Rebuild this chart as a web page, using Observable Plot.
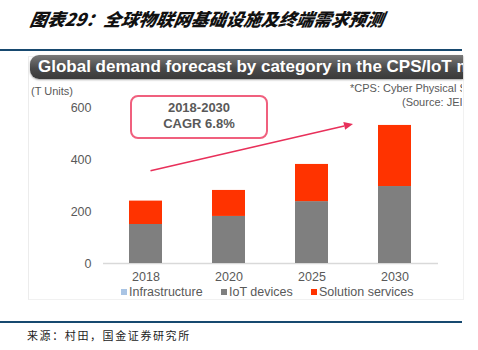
<!DOCTYPE html>
<html>
<head>
<meta charset="utf-8">
<script src="https://cdn.jsdelivr.net/npm/d3@7"></script>
<script src="https://cdn.jsdelivr.net/npm/@observablehq/plot@0.6"></script>
<style>
  html, body { margin: 0; padding: 0; background: #fff; }
  #page { position: relative; width: 478px; height: 350px; overflow: hidden; background: #fff; font-family: "Liberation Sans", Arial, sans-serif; }
  .abs { position: absolute; }
  #title { left: 28px; top: 6px; font-family: "Noto Sans CJK SC", sans-serif; font-weight: 900; font-style: italic; font-size: 17.5px; color: #111; white-space: nowrap; transform: skewX(-10deg); transform-origin: left bottom; }
  .rule { left: 0; width: 462px; height: 2px; background: #17496f; }
  #panel { left: 28px; top: 56px; width: 434px; height: 242px; border: 1px solid #f1f1f1; border-left-color: #ececec; }
  #bar { left: 30px; top: 55px; width: 433px; height: 24px; border-radius: 9px 0 0 9px; background: linear-gradient(#7a7a7a, #4a4a4a 55%, #3a3a3a); overflow: hidden; box-shadow: 0 1px 2px rgba(0,0,0,0.35); }
  #bar span { position: absolute; left: 8px; top: 2px; color: #fff; font-weight: bold; font-size: 17px; white-space: nowrap; }
  .note { font-size: 11px; color: #595959; white-space: nowrap; }
  #clipnotes { left: 300px; top: 82px; width: 162px; height: 30px; overflow: hidden; }
  #box { left: 130px; top: 95px; width: 134px; height: 37px; border: 2px solid #f0607e; border-radius: 8px; text-align: center; font-weight: bold; font-size: 13px; color: #595959; line-height: 16px; padding-top: 3px; box-sizing: content-box; }
  #legend { left: 0; top: 285px; width: 478px; font-size: 12.5px; color: #595959; }
  .lg { position: absolute; top: 0; white-space: nowrap; }
  .sw { display: inline-block; width: 6px; height: 6px; margin-right: 2px; vertical-align: 1px; }
  #source { left: 27px; top: 327px; font-family: "Noto Sans CJK SC", sans-serif; font-size: 11px; letter-spacing: 1.6px; color: #222; white-space: nowrap; }
</style>
</head>
<body>
<div id="page">
  <div id="title" class="abs">图表29：全球物联网基础设施及终端需求预测</div>
  <div class="abs rule" style="top:49px"></div>
  <div id="panel" class="abs"></div>
  <div id="bar" class="abs"><span>Global demand forecast by category in the CPS/IoT market</span></div>
  <div class="abs note" style="left:31px; top:85px">(T Units)</div>
  <div id="clipnotes" class="abs">
    <div class="abs note" style="left:50px; top:0px">*CPS: Cyber Physical Systems</div>
    <div class="abs note" style="left:102px; top:14px">(Source: JEITA)</div>
  </div>
  <div id="chart" class="abs" style="left:0; top:85px"></div>
  <div id="box" class="abs">2018-2030<br>CAGR 6.8%</div>
  <div id="legend" class="abs"></div>
  <div class="abs rule" style="top:321px"></div>
  <div id="source" class="abs">来源：村田，国金证券研究所</div>
</div>
<script>
// ---- data ----
const years = ["2018", "2020", "2025", "2030"];
const seriesNames = ["Infrastructure", "IoT devices", "Solution services"];
const infrastructure = [0, 0, 0, 0];
const iotDevices = [150, 181, 238, 296];
const solutionServices = [90, 100, 143, 235];
const yTicks = [0, 200, 400, 600];
const seriesColors = ["#a9c4e4", "#7f7f7f", "#ff3300"];
const cagrArrowStart = {year: "2018", value: 355};
const cagrArrowEnd = {between: ["2025", "2030"], value: 535};

const table = [];
years.forEach((yr, i) => {
  table.push({year: yr, series: seriesNames[0], value: infrastructure[i]});
  table.push({year: yr, series: seriesNames[1], value: iotDevices[i]});
  table.push({year: yr, series: seriesNames[2], value: solutionServices[i]});
});

const chart = Plot.plot({
  width: 478,
  height: 200,
  marginTop: 22,
  marginBottom: 22,
  marginLeft: 103,
  marginRight: 40,
  style: {fontFamily: "'Liberation Sans', Arial, sans-serif", fontSize: "12.5px", color: "#595959", background: "transparent", overflow: "visible"},
  x: {domain: years, paddingInner: 0.6, paddingOuter: 0.3, label: null, tickSize: 0, tickPadding: 9},
  y: {domain: [0, 600], ticks: yTicks, label: null, tickSize: 0, tickPadding: 12},
  color: {domain: seriesNames, range: seriesColors},
  marks: [
    Plot.ruleY([0], {stroke: "#d9d9d9", strokeWidth: 1.5}),
    Plot.barY(table, {x: "year", y: "value", fill: "series", order: seriesNames})
  ]
});
document.getElementById("chart").appendChild(chart);

// CAGR arrow, placed through the chart's scales
const xs = chart.scale("x"), ys = chart.scale("y");
const bw = xs.bandwidth;
const cx = (v) => xs.apply(v) + bw / 2;
const x1 = cx(cagrArrowStart.year) + 5, y1 = ys.apply(cagrArrowStart.value);
const x2 = (cx(cagrArrowEnd.between[0]) + cx(cagrArrowEnd.between[1])) / 2, y2 = ys.apply(cagrArrowEnd.value);
const svg = d3.select(chart);
const ang = Math.atan2(y2 - y1, x2 - x1);
const hl = 9, hw = 4;
const bx = x2 - hl * Math.cos(ang), by = y2 - hl * Math.sin(ang);
svg.append("line").attr("x1", x1).attr("y1", y1).attr("x2", bx).attr("y2", by)
  .attr("stroke", "#e8305a").attr("stroke-width", 1.6);
svg.append("path")
  .attr("d", `M${x2},${y2}L${bx - hw * Math.sin(ang)},${by + hw * Math.cos(ang)}L${bx + hw * Math.sin(ang)},${by - hw * Math.cos(ang)}Z`)
  .attr("fill", "#e8305a");

// legend
const legendX = [121, 221, 311];
const legend = document.getElementById("legend");
seriesNames.forEach((n, i) => {
  const d = document.createElement("div");
  d.className = "lg";
  d.style.left = legendX[i] + "px";
  d.innerHTML = `<span class="sw" style="background:${seriesColors[i]}"></span>${n}`;
  legend.appendChild(d);
});
</script>
</body>
</html>
